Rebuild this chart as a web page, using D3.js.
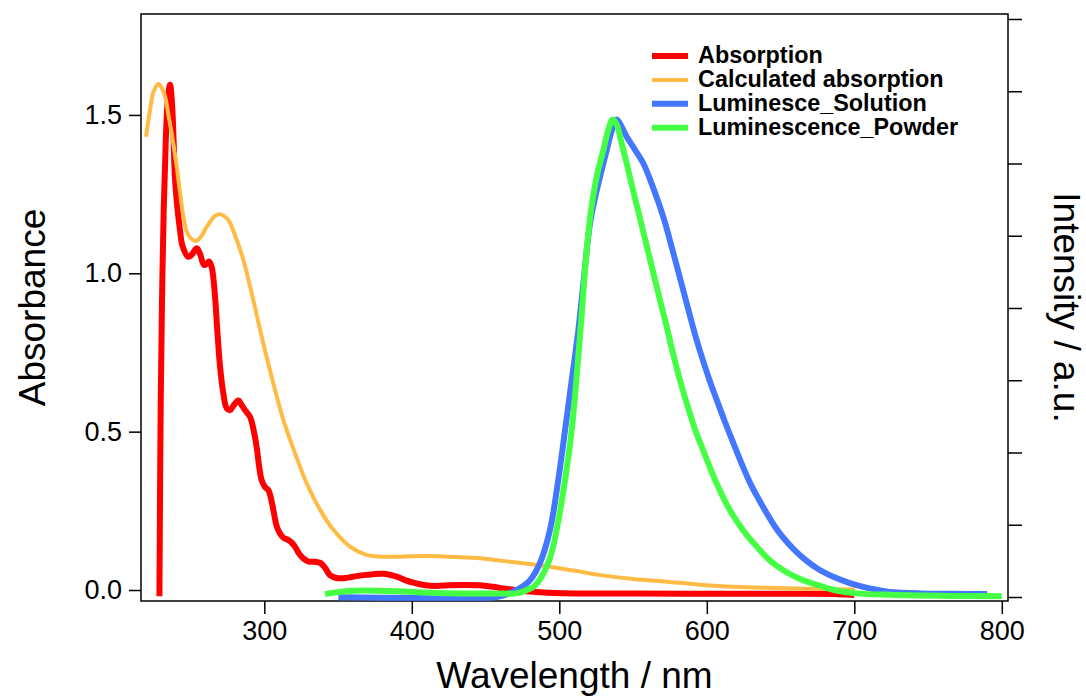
<!DOCTYPE html>
<html>
<head>
<meta charset="utf-8">
<script src="https://cdn.jsdelivr.net/npm/d3@7"></script>
<style>
  html, body { margin: 0; padding: 0; background: #fff; }
  svg { display: block; font-family: "Liberation Sans", Arial, Helvetica, sans-serif; }
</style>
</head>
<body>
<svg id="chart"></svg>
<script>
// Absorbance (left axis), wavelength in nm
const absorption = [
  [228.9, -0.02], [229.3, 0.3], [229.8, 0.6], [230.6, 0.9], [231.8, 1.2], [233.2, 1.42],
  [234.6, 1.55], [236.1, 1.595], [237.5, 1.53], [238.5, 1.42], [239.5, 1.295], [242.8, 1.137],
  [244.7, 1.084], [248.5, 1.052], [251, 1.06], [254.2, 1.079], [256.5, 1.06], [259.1, 1.026],
  [261, 1.03], [262.5, 1.037], [264.3, 1.02], [266.6, 0.926], [268.1, 0.821], [270, 0.705],
  [272.2, 0.621], [274.5, 0.574], [276.7, 0.568], [279.5, 0.585], [282.4, 0.598], [284.5, 0.585],
  [286.9, 0.568], [290.3, 0.547], [292.5, 0.51], [294.8, 0.452], [296.5, 0.39], [298.2, 0.347],
  [300.5, 0.325], [302.7, 0.316], [304.5, 0.29], [306.1, 0.253], [308.5, 0.2], [310.6, 0.179],
  [313, 0.165], [316.3, 0.158], [318.5, 0.15], [320.8, 0.137], [323.5, 0.115], [326.4, 0.1],
  [330, 0.09], [334.4, 0.089], [337.8, 0.086], [341.2, 0.07], [344.5, 0.047], [349, 0.038],
  [353.6, 0.037], [360, 0.042], [367.1, 0.047], [374, 0.05], [380.7, 0.051], [385, 0.048],
  [389.8, 0.042], [395, 0.032], [401, 0.023], [408, 0.016], [416.9, 0.013], [425, 0.015],
  [434.9, 0.016], [446.2, 0.015], [455, 0.01], [462, 0.005], [470, 0.0], [480, -0.005],
  [490, -0.008], [502.7, -0.01], [550, -0.011], [600, -0.012], [650, -0.012], [690, -0.013],
  [700, -0.016]
];

const calculated = [
  [219.8, 1.431], [222.5, 1.516], [225, 1.575], [228.2, 1.598], [230.5, 1.585], [232.7, 1.558],
  [235, 1.5], [237.2, 1.442], [240.6, 1.337], [243, 1.25], [245.3, 1.175], [248.5, 1.121],
  [253.5, 1.102], [257, 1.115], [261, 1.147], [266.6, 1.181], [270.4, 1.186], [275.6, 1.168],
  [281.3, 1.105], [285.8, 1.042], [292.5, 0.916], [299.3, 0.779], [306.1, 0.653], [312.9, 0.537],
  [320.8, 0.432], [328.7, 0.337], [337.8, 0.253], [346.8, 0.19], [358.1, 0.137], [369.4, 0.111],
  [383, 0.105], [395, 0.106], [412.3, 0.107], [430, 0.104], [446.2, 0.1], [462, 0.092],
  [480, 0.082], [497, 0.071], [514, 0.058], [527.6, 0.047], [550, 0.035], [572.8, 0.026],
  [595, 0.017], [618, 0.01], [650, 0.006], [680, 0.003], [700.4, 0.002]
];

// Intensity (right axis, arbitrary units)
const lumSolution = [
  [350.2, -0.005], [380, -0.01], [420, -0.01], [457.6, 0.0], [465, 0.04], [471.1, 0.1],
  [476, 0.16], [480.1, 0.23], [486.9, 0.47], [493.7, 0.93], [499.3, 1.62], [503.9, 2.31],
  [508.6, 3.03], [512.9, 3.69], [516.3, 4.34], [520.8, 5.17], [525.4, 5.63], [532.1, 6.18],
  [535.5, 6.45], [538.9, 6.61], [542, 6.52], [545.7, 6.37], [551, 6.2], [557, 6.0],
  [563, 5.7], [570.5, 5.26], [577.3, 4.76], [584.1, 4.24], [593.2, 3.55], [602.2, 2.98],
  [606.7, 2.73], [612, 2.44], [618, 2.13], [623.5, 1.85], [629.3, 1.58], [635, 1.36],
  [640.6, 1.16], [646, 0.98], [651.9, 0.82], [659, 0.66], [667.7, 0.5], [676, 0.38],
  [685.8, 0.28], [696, 0.2], [706.1, 0.14], [715, 0.1], [724.2, 0.07], [745, 0.05],
  [767, 0.045], [790, 0.04]
];

const lumPowder = [
  [341.2, 0.04], [355, 0.08], [367.1, 0.09], [390, 0.08], [412.3, 0.06], [435, 0.05],
  [457.6, 0.05], [471.1, 0.05], [476, 0.08], [482.4, 0.14], [487, 0.25], [491.5, 0.42],
  [495, 0.63], [498.2, 0.93], [503.9, 1.62], [508.4, 2.31], [512.7, 3.28], [515.4, 3.97],
  [518.1, 4.69], [521.5, 5.35], [525.6, 5.84], [529.8, 6.18], [533, 6.45], [536.2, 6.61],
  [539.1, 6.53], [542, 6.3], [545.7, 6.0], [550, 5.63], [554.7, 5.24], [559, 4.88],
  [563.7, 4.49], [568, 4.13], [572.8, 3.74], [577, 3.38], [581.8, 3.0], [587, 2.64],
  [592, 2.32], [595.4, 2.14], [600, 1.9], [606.7, 1.57], [613, 1.3], [620.3, 1.05],
  [627, 0.86], [633.8, 0.7], [642, 0.52], [651.9, 0.37], [662, 0.26], [674.5, 0.17],
  [688, 0.09], [701.6, 0.05], [724.2, 0.03], [764.9, 0.015], [800, 0.01]
];

const seriesNames = ['Absorption', 'Calculated absorption', 'Luminesce_Solution', 'Luminescence_Powder'];
const seriesColors = ['#ff0000', '#ffbb44', '#4477ff', '#44ff44'];
const seriesWidths = [6, 4, 6, 6];

const xTicks = [300, 400, 500, 600, 700, 800];
const yTicks = [0, 0.5, 1.0, 1.5];
const y2Ticks = [0, 1, 2, 3, 4, 5, 6, 7, 8];

//Set up svg
const width = 1086;
const height = 699;
const margin = { top: 14, right: 78, bottom: 98, left: 141 };

const svg = d3.select('#chart').attr('width', width).attr('height', height);

const xScale = d3.scaleLinear()
  .domain([216.4, 804.2])
  .range([margin.left, width - margin.right]);

const yScale = d3.scaleLinear()
  .domain([-0.0347, 1.8187])
  .range([height - margin.bottom, margin.top]);

const y2Scale = d3.scaleLinear()
  .domain([-0.0554, 8.069])
  .range([height - margin.bottom, margin.top]);

//Axes
const styleAxis = (g) => {
  g.select('.domain').remove();
  g.selectAll('.tick line').attr('stroke', '#000').attr('stroke-width', 1.5);
  g.selectAll('.tick text').attr('fill', '#000').style('font-size', '27px');
};

svg.append('g')
  .attr('transform', `translate(0,${height - margin.bottom})`)
  .call(d3.axisBottom(xScale).tickValues(xTicks).tickSize(13).tickPadding(7).tickFormat(d3.format('d')))
  .call(styleAxis);

svg.append('g')
  .attr('transform', `translate(${margin.left},0)`)
  .call(d3.axisLeft(yScale).tickValues(yTicks).tickSize(12).tickPadding(7).tickFormat(d3.format('.1f')))
  .call(styleAxis);

svg.append('g')
  .attr('transform', `translate(${width - margin.right},0)`)
  .call(d3.axisRight(y2Scale).tickValues(y2Ticks).tickSize(14).tickFormat(''))
  .call(styleAxis);

//Plot frame
svg.append('rect')
  .attr('x', margin.left)
  .attr('y', margin.top)
  .attr('width', width - margin.left - margin.right)
  .attr('height', height - margin.top - margin.bottom)
  .attr('fill', 'none')
  .attr('stroke', '#000')
  .attr('stroke-width', 1.5);

//Lines
const plot = svg.append('g');
const lineLeft = d3.line()
  .x((d) => xScale(d[0]))
  .y((d) => yScale(d[1]))
  .curve(d3.curveCatmullRom);
const lineRight = d3.line()
  .x((d) => xScale(d[0]))
  .y((d) => y2Scale(d[1]))
  .curve(d3.curveCatmullRom);

const traces = [
  { data: absorption, gen: lineLeft },
  { data: calculated, gen: lineLeft },
  { data: lumSolution, gen: lineRight },
  { data: lumPowder, gen: lineRight },
];

traces.forEach((t, i) => {
  plot.append('path')
    .datum(t.data)
    .attr('fill', 'none')
    .attr('stroke', seriesColors[i])
    .attr('stroke-width', seriesWidths[i])
    .attr('stroke-linejoin', 'round')
    .attr('d', t.gen);
});

//Legend
const legend = svg.append('g').attr('transform', 'translate(652,56)');
seriesNames.forEach((name, i) => {
  const row = legend.append('g').attr('transform', `translate(0,${i * 23.9})`);
  row.append('line')
    .attr('x1', 0).attr('x2', 36)
    .attr('y1', 0).attr('y2', 0)
    .attr('stroke', seriesColors[i])
    .attr('stroke-width', seriesWidths[i]);
  row.append('text')
    .attr('x', 46)
    .attr('y', 7)
    .style('font-size', '23.4px')
    .style('font-weight', 'bold')
    .text(name);
});

//Axis titles
svg.append('text')
  .attr('transform', `translate(45,${(margin.top + height - margin.bottom) / 2}) rotate(-90)`)
  .attr('text-anchor', 'middle')
  .style('font-size', '37px')
  .text('Absorbance');

svg.append('text')
  .attr('x', (margin.left + width - margin.right) / 2)
  .attr('y', 688)
  .attr('text-anchor', 'middle')
  .style('font-size', '37px')
  .text('Wavelength / nm');

svg.append('text')
  .attr('transform', `translate(1054,${(margin.top + height - margin.bottom) / 2}) rotate(90)`)
  .attr('text-anchor', 'middle')
  .style('font-size', '37px')
  .text('Intensity / a.u.');
</script>
</body>
</html>
